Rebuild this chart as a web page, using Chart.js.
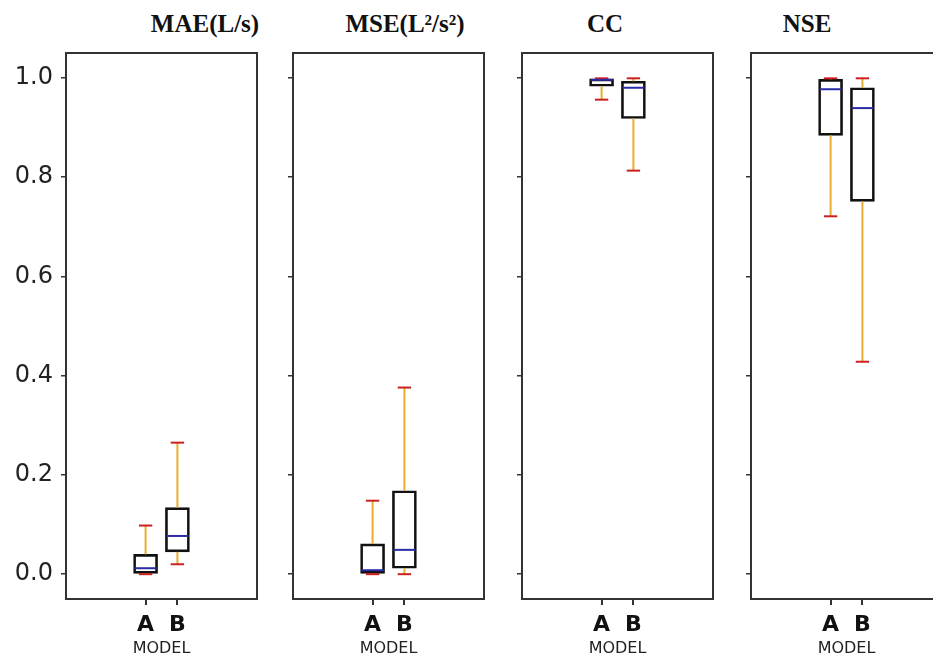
<!DOCTYPE html>
<html lang="en">
<head>
<meta charset="UTF-8" />
<title>Model error metrics</title>
<script src="https://cdn.jsdelivr.net/npm/chart.js"></script>
<style>
  body{margin:0;width:933px;height:659px;overflow:hidden;background:#fff;position:relative}
  .panel{position:absolute;top:0}
  .ttl{position:absolute;top:11px;transform:translateX(-50%);font:bold 25px "Liberation Serif","Times New Roman",serif;line-height:1;color:#111;white-space:nowrap}
</style>
</head>
<body>
<div class="ttl" style="left:205px">MAE(L/s)</div>
<div class="ttl" style="left:405px">MSE(L²/s²)</div>
<div class="ttl" style="left:605px">CC</div>
<div class="ttl" style="left:807px">NSE</div>
<canvas class="panel" id="c0" width="261" height="659" style="left:6px"></canvas>
<canvas class="panel" id="c1" width="261" height="659" style="left:233px"></canvas>
<canvas class="panel" id="c2" width="261" height="659" style="left:462px"></canvas>
<canvas class="panel" id="c3" width="261" height="659" style="left:691px"></canvas>
<script>
// --- data: [min, q1, median, q3, max] per model ---------------------------
const categories=['A','B'];
const yTicks=[0,0.2,0.4,0.6,0.8,1.0];
const maeA=[0.000,0.000,0.012,0.040,0.098];
const maeB=[0.020,0.045,0.077,0.134,0.265];
const mseA=[0.000,0.000,0.008,0.061,0.148];
const mseB=[0.000,0.012,0.049,0.168,0.376];
const ccA=[0.956,0.983,0.996,0.998,0.999];
const ccB=[0.813,0.918,0.980,0.993,0.999];
const nseA=[0.721,0.884,0.977,0.997,0.999];
const nseB=[0.428,0.751,0.939,0.980,0.999];
const panels=[[maeA,maeB],[mseA,mseB],[ccA,ccB],[nseA,nseB]];

const boxColor='#111', medianColor='#2b2ba6', whiskerColor='#e6ad2e', capColor='#cc2020';

// whiskers, caps, medians and the frame drawn on the chart's own scales
const boxParts={
  id:'boxParts',
  afterDatasetsDraw(chart){
    const {ctx,chartArea:a,scales:{x,y}}=chart;
    const stats=chart.options.plugins.boxParts.stats;
    const seg=(x1,y1,x2,y2)=>{ctx.beginPath();ctx.moveTo(x1,y1);ctx.lineTo(x2,y2);ctx.stroke();};
    ctx.save();
    ctx.lineWidth=2;
    stats.forEach((s,i)=>{
      const cx=x.getPixelForValue(i+1);
      const capHalf=x.getPixelForValue(i+1.21)-cx;
      const boxHalf=x.getPixelForValue(i+1.375)-cx-1;
      const [mn,q1,md,q3,mx]=s.map(v=>y.getPixelForValue(v));
      ctx.strokeStyle=whiskerColor;
      seg(cx,q3,cx,mx); seg(cx,q1,cx,mn);
      ctx.strokeStyle=capColor;
      seg(cx-capHalf,mx,cx+capHalf,mx); seg(cx-capHalf,mn,cx+capHalf,mn);
      ctx.strokeStyle=medianColor;
      seg(cx-boxHalf,md,cx+boxHalf,md);
    });
    ctx.strokeStyle='#333';
    ctx.strokeRect(a.left,a.top,a.right-a.left,a.bottom-a.top);
    ctx.restore();
  }
};

panels.forEach((stats,p)=>{
  new Chart(document.getElementById('c'+p),{
    type:'bar',
    data:{datasets:[{
      data:stats.map((s,i)=>({x:i+1,y:[s[1],s[3]]})),
      backgroundColor:'rgba(255,255,255,0)',
      borderColor:boxColor,
      borderWidth:2,
      borderSkipped:false,
      barThickness:24
    }]},
    options:{
      responsive:false,
      animation:false,
      layout:{padding:{top:53,right:10,left:0,bottom:0}},
      plugins:{legend:{display:false},tooltip:{enabled:false},boxParts:{stats}},
      scales:{
        x:{
          type:'linear',min:-1.5,max:4.5,offset:false,
          afterBuildTicks:s=>{s.ticks=categories.map((c,i)=>({value:i+1}));},
          afterFit:s=>{s.height=60;},
          border:{display:false},
          grid:{offset:false,drawOnChartArea:false,drawTicks:true,tickLength:6,color:'#333',lineWidth:2},
          ticks:{callback:(v,i)=>categories[i],padding:7,color:'#111',
                 font:{family:'DejaVu Sans',size:22,weight:'bold'},maxRotation:0},
          title:{display:true,text:'MODEL',color:'#222',padding:{top:0,bottom:1},
                 font:{family:'DejaVu Sans',size:16}}
        },
        y:{
          min:-0.05,max:1.05,
          afterBuildTicks:s=>{s.ticks=yTicks.map(v=>({value:v}));},
          afterFit:s=>{s.width=60;},
          border:{display:false},
          grid:{drawOnChartArea:false,drawTicks:true,tickLength:5,color:'#333',lineWidth:1.5},
          ticks:{display:p===0,padding:8,color:'#222',
                 callback:v=>v.toFixed(1),
                 font:{family:'DejaVu Sans',size:24}}
        }
      }
    },
    plugins:[boxParts]
  });
});
</script>
</body>
</html>
